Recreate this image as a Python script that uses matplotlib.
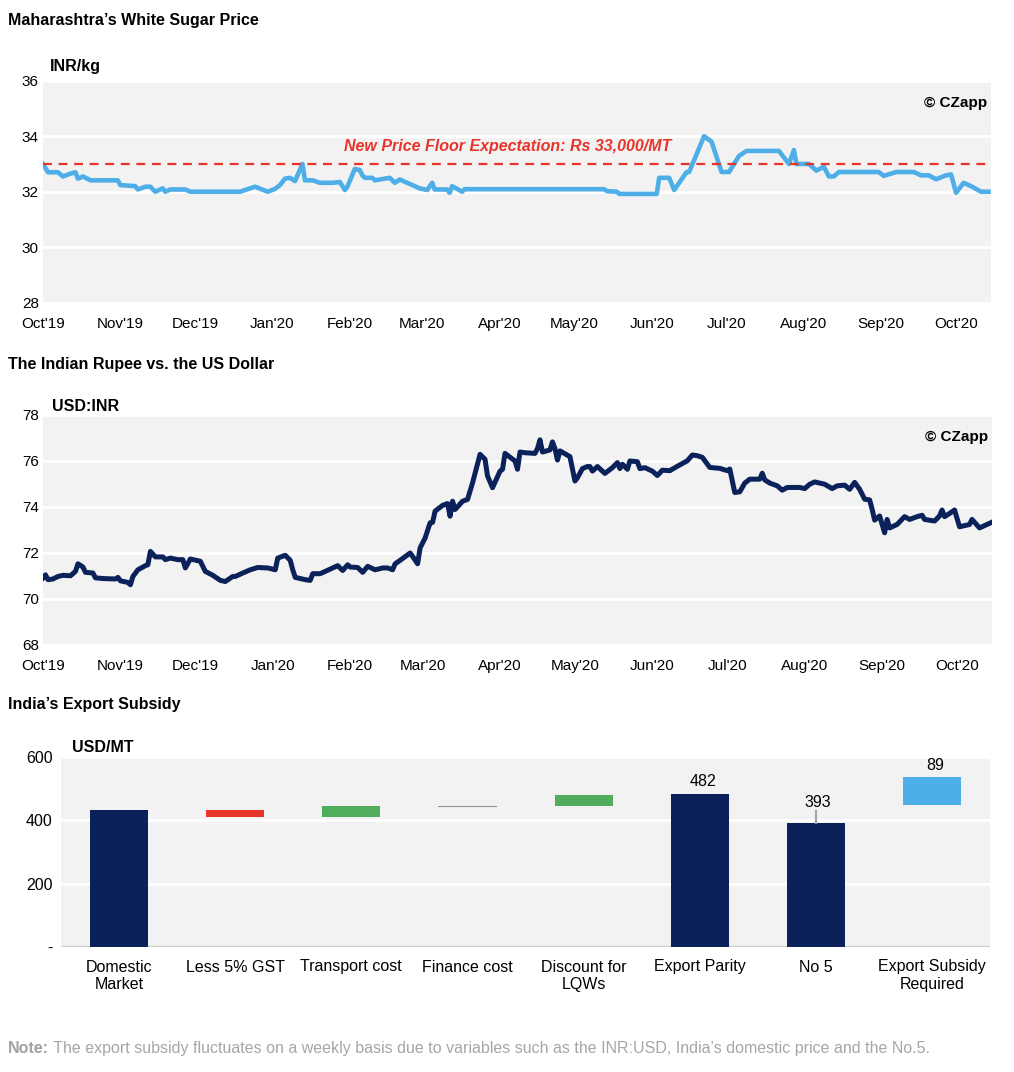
import numpy as np
import pandas as pd
import matplotlib
matplotlib.use("Agg")
import matplotlib.pyplot as plt
import matplotlib.dates as mdates

plt.rcParams['font.family'] = ['Liberation Sans', 'DejaVu Sans']

# Maharashtra white sugar price, INR/kg
sugar_dates = [
    "2019-10-01", "2019-10-03", "2019-10-07", "2019-10-09", "2019-10-12", "2019-10-14",
    "2019-10-15", "2019-10-17", "2019-10-20", "2019-10-31", "2019-11-01", "2019-11-07",
    "2019-11-08", "2019-11-11", "2019-11-13", "2019-11-15", "2019-11-18", "2019-11-19",
    "2019-11-21", "2019-11-27", "2019-11-29", "2019-12-19", "2019-12-25", "2019-12-30",
    "2020-01-02", "2020-01-04", "2020-01-06", "2020-01-08", "2020-01-10", "2020-01-13",
    "2020-01-14", "2020-01-17", "2020-01-20", "2020-01-25", "2020-01-28", "2020-01-30",
    "2020-01-31", "2020-02-03", "2020-02-05", "2020-02-06", "2020-02-07", "2020-02-10",
    "2020-02-11", "2020-02-17", "2020-02-19", "2020-02-21", "2020-02-29", "2020-03-03",
    "2020-03-05", "2020-03-06", "2020-03-11", "2020-03-12", "2020-03-13", "2020-03-17",
    "2020-03-18", "2020-05-13", "2020-05-14", "2020-05-18", "2020-05-19", "2020-06-03",
    "2020-06-04", "2020-06-08", "2020-06-10", "2020-06-15", "2020-06-16", "2020-06-22",
    "2020-06-25", "2020-06-29", "2020-07-02", "2020-07-06", "2020-07-09", "2020-07-22",
    "2020-07-26", "2020-07-28", "2020-07-29", "2020-08-03", "2020-08-06", "2020-08-09",
    "2020-08-11", "2020-08-13", "2020-08-15", "2020-08-31", "2020-09-02", "2020-09-07",
    "2020-09-14", "2020-09-17", "2020-09-20", "2020-09-23", "2020-09-27", "2020-09-29",
    "2020-10-01", "2020-10-04", "2020-10-07", "2020-10-11", "2020-10-14",
]
sugar_price = [
    33.0, 32.7, 32.7, 32.55, 32.65, 32.7,
    32.47, 32.55, 32.41, 32.41, 32.24, 32.2,
    32.08, 32.18, 32.18, 32.0, 32.12, 32.0,
    32.08, 32.08, 32.0, 32.0, 32.18, 32.0,
    32.1, 32.24, 32.47, 32.5, 32.38, 33.0,
    32.41, 32.41, 32.32, 32.32, 32.35, 32.06,
    32.18, 32.82, 32.78, 32.59, 32.5, 32.5,
    32.41, 32.5, 32.32, 32.44, 32.12, 32.06,
    32.32, 32.08, 32.08, 31.96, 32.2, 32.0,
    32.09, 32.09, 32.02, 32.0, 31.92, 31.92,
    32.5, 32.5, 32.06, 32.71, 32.71, 34.0,
    33.8, 32.71, 32.71, 33.29, 33.47, 33.47,
    33.0, 33.5, 33.0, 33.0, 32.76, 32.9,
    32.55, 32.55, 32.71, 32.71, 32.57, 32.71,
    32.71, 32.59, 32.59, 32.45, 32.59, 32.62,
    31.96, 32.32, 32.2, 32.0, 32.0,
]
price_floor = 33.0

# USD:INR
fx_dates = [
    "2019-10-01", "2019-10-02", "2019-10-03", "2019-10-05", "2019-10-07", "2019-10-09",
    "2019-10-12", "2019-10-14", "2019-10-15", "2019-10-17", "2019-10-18", "2019-10-21",
    "2019-10-22", "2019-10-25", "2019-10-30", "2019-10-31", "2019-11-01", "2019-11-04",
    "2019-11-05", "2019-11-06", "2019-11-08", "2019-11-11", "2019-11-12", "2019-11-13",
    "2019-11-15", "2019-11-18", "2019-11-19", "2019-11-21", "2019-11-24", "2019-11-26",
    "2019-11-27", "2019-11-29", "2019-12-03", "2019-12-05", "2019-12-08", "2019-12-11",
    "2019-12-13", "2019-12-16", "2019-12-17", "2019-12-20", "2019-12-23", "2019-12-26",
    "2019-12-30", "2020-01-02", "2020-01-03", "2020-01-06", "2020-01-08", "2020-01-09",
    "2020-01-10", "2020-01-14", "2020-01-16", "2020-01-17", "2020-01-20", "2020-01-24",
    "2020-01-27", "2020-01-29", "2020-01-31", "2020-02-01", "2020-02-04", "2020-02-06",
    "2020-02-08", "2020-02-11", "2020-02-14", "2020-02-16", "2020-02-18", "2020-02-19",
    "2020-02-21", "2020-02-25", "2020-02-26", "2020-02-28", "2020-02-29", "2020-03-02",
    "2020-03-04", "2020-03-05", "2020-03-06", "2020-03-09", "2020-03-11", "2020-03-12",
    "2020-03-13", "2020-03-14", "2020-03-17", "2020-03-19", "2020-03-21", "2020-03-24",
    "2020-03-26", "2020-03-27", "2020-03-29", "2020-04-01", "2020-04-02", "2020-04-03",
    "2020-04-07", "2020-04-08", "2020-04-09", "2020-04-11", "2020-04-15", "2020-04-16",
    "2020-04-17", "2020-04-18", "2020-04-21", "2020-04-22", "2020-04-23", "2020-04-24",
    "2020-04-25", "2020-04-29", "2020-05-01", "2020-05-02", "2020-05-04", "2020-05-06",
    "2020-05-07", "2020-05-08", "2020-05-10", "2020-05-13", "2020-05-16", "2020-05-18",
    "2020-05-19", "2020-05-20", "2020-05-22", "2020-05-23", "2020-05-26", "2020-05-27",
    "2020-05-29", "2020-06-01", "2020-06-03", "2020-06-05", "2020-06-08", "2020-06-11",
    "2020-06-15", "2020-06-17", "2020-06-19", "2020-06-21", "2020-06-24", "2020-06-28",
    "2020-07-01", "2020-07-02", "2020-07-04", "2020-07-06", "2020-07-08", "2020-07-10",
    "2020-07-14", "2020-07-15", "2020-07-16", "2020-07-18", "2020-07-21", "2020-07-23",
    "2020-07-25", "2020-07-30", "2020-08-01", "2020-08-03", "2020-08-05", "2020-08-09",
    "2020-08-12", "2020-08-14", "2020-08-17", "2020-08-19", "2020-08-21", "2020-08-23",
    "2020-08-25", "2020-08-27", "2020-08-28", "2020-08-29", "2020-08-31", "2020-09-02",
    "2020-09-03", "2020-09-04", "2020-09-07", "2020-09-10", "2020-09-12", "2020-09-15",
    "2020-09-17", "2020-09-18", "2020-09-22", "2020-09-24", "2020-09-25", "2020-09-26",
    "2020-09-28", "2020-09-30", "2020-10-02", "2020-10-06", "2020-10-07", "2020-10-10",
    "2020-10-13", "2020-10-15",
]
usd_inr = [
    70.91, 71.05, 70.84, 70.87, 70.98, 71.03,
    71.01, 71.2, 71.53, 71.39, 71.16, 71.13,
    70.92, 70.89, 70.87, 70.94, 70.79, 70.72,
    70.62, 70.98, 71.27, 71.45, 71.49, 72.07,
    71.83, 71.83, 71.71, 71.78, 71.71, 71.71,
    71.35, 71.74, 71.64, 71.2, 71.03, 70.81,
    70.76, 70.98, 70.98, 71.13, 71.27, 71.37,
    71.35, 71.27, 71.78, 71.9, 71.68, 71.27,
    70.94, 70.84, 70.81, 71.1, 71.1, 71.3,
    71.45, 71.24, 71.49, 71.39, 71.37, 71.16,
    71.42, 71.27, 71.35, 71.35, 71.27, 71.53,
    71.68, 72.0, 71.85, 71.53, 72.22, 72.65,
    73.31, 73.33, 73.82, 74.07, 74.15, 73.6,
    74.25, 73.89, 74.25, 74.33, 75.05, 76.29,
    76.07, 75.35, 74.84, 75.56, 75.64, 76.33,
    76.0, 75.64, 76.39, 76.36, 76.33, 76.54,
    76.92, 76.39, 76.48, 76.83, 76.54, 76.04,
    76.44, 76.19, 75.13, 75.27, 75.67, 75.76,
    75.76, 75.56, 75.76, 75.46, 75.71, 75.93,
    75.67, 75.86, 75.64, 76.0, 75.97, 75.67,
    75.71, 75.56, 75.37, 75.6, 75.58, 75.77,
    76.01, 76.26, 76.23, 76.16, 75.72, 75.68,
    75.58, 75.65, 74.63, 74.66, 75.04, 75.21,
    75.21, 75.47, 75.18, 75.04, 74.92, 74.73,
    74.85, 74.85, 74.8, 74.99, 75.09, 74.99,
    74.8, 74.92, 74.95, 74.77, 75.07, 74.77,
    74.34, 74.31, 73.9, 73.43, 73.61, 72.88,
    73.46, 73.09, 73.24, 73.58, 73.46, 73.58,
    73.64, 73.46, 73.39, 73.61, 73.87, 73.58,
    73.72, 73.87, 73.14, 73.24, 73.46, 73.09,
    73.24, 73.34,
]

# export subsidy waterfall, USD/MT
steps = ['Domestic\nMarket', 'Less 5% GST', 'Transport cost', 'Finance cost',
         'Discount for\nLQWs', 'Export Parity', 'No 5', 'Export Subsidy\nRequired']
domestic = 432
changes = [-21, 33, 2, 35]          # GST, transport, finance, LQW discount
export_parity = 482
no5 = 393
subsidy = 89
subsidy_base = 447

NAVY = '#0A2159'
LIGHT = '#4EAEE8'
RED = '#E8352B'
GREEN = '#4FAD5B'
BG = '#F2F2F2'

fig = plt.figure(figsize=(10.14, 10.72), dpi=100)
W, H = 1014, 1072


def px_axes(left, top, right, bottom):
    return fig.add_axes([left / W, 1 - bottom / H, (right - left) / W, (bottom - top) / H])


def style_ts(ax, ylo, yhi):
    ax.set_facecolor(BG)
    for s in ax.spines.values():
        s.set_visible(False)
    ax.set_ylim(ylo, yhi)
    ax.set_yticks(np.arange(ylo, yhi + 1, 2))
    ax.grid(axis='y', color='white', linewidth=2)
    ax.set_axisbelow(True)
    ax.set_xlim(pd.Timestamp('2019-10-01'), pd.Timestamp('2020-10-15'))
    months = pd.date_range('2019-10-01', '2020-10-01', freq='MS')
    ax.set_xticks(months)
    ax.xaxis.set_major_formatter(mdates.DateFormatter("%b'%y"))
    ax.tick_params(axis='both', length=0, labelsize=11)
    ax.tick_params(axis='y', pad=3)
    ax.tick_params(axis='x', pad=10)


# --- top panel: sugar price
ax1 = px_axes(43, 80.7, 991, 302.7)
style_ts(ax1, 28, 36)
ax1.plot(pd.to_datetime(sugar_dates), sugar_price, color=LIGHT, lw=3.3, solid_joinstyle='round')
ax1.axhline(price_floor, color=RED, lw=1.6, ls=(0, (4, 3)))
ax1.text(0.49, 0.705, 'New Price Floor Expectation: Rs 33,000/MT', transform=ax1.transAxes,
         color=RED, fontsize=11.5, fontweight='bold', fontstyle='italic', ha='center', va='center')
ax1.text(0.996, 0.9, '© CZapp', transform=ax1.transAxes, ha='right', va='center',
         fontsize=11, fontweight='bold')
fig.text(8 / W, 1 - 21 / H, 'Maharashtra’s White Sugar Price', fontsize=11.5, fontweight='bold',
         ha='left', va='center')
fig.text(50 / W, 1 - 67 / H, 'INR/kg', fontsize=11.5, fontweight='bold', ha='left', va='center')

# --- middle panel: USD:INR
ax2 = px_axes(43, 415, 992, 645)
style_ts(ax2, 68, 78)
ax2.plot(pd.to_datetime(fx_dates), usd_inr, color=NAVY, lw=3.6, solid_joinstyle='round')
ax2.text(0.996, 0.905, '© CZapp', transform=ax2.transAxes, ha='right', va='center',
         fontsize=11, fontweight='bold')
fig.text(8 / W, 1 - 364 / H, 'The Indian Rupee vs. the US Dollar', fontsize=11.5, fontweight='bold',
         ha='left', va='center')
fig.text(52 / W, 1 - 406 / H, 'USD:INR', fontsize=11.5, fontweight='bold', ha='left', va='center')

# --- bottom panel: waterfall
ax3 = px_axes(61, 757, 990, 947)
ax3.set_facecolor(BG)
for s in ax3.spines.values():
    s.set_visible(False)
x = np.arange(len(steps))
running = domestic
bottoms = [0]
heights = [domestic]
colors = [NAVY]
for c in changes:
    bottoms.append(min(running, running + c))
    heights.append(abs(c))
    colors.append(RED if c < 0 else GREEN)
    running += c
bottoms += [0, 0, subsidy_base]
heights += [export_parity, no5, subsidy]
colors += [NAVY, NAVY, LIGHT]
ax3.bar(x, heights, bottom=bottoms, width=0.5, color=colors, zorder=3)
# finance cost is only a sliver
ax3.plot([x[3] - 0.25, x[3] + 0.25], [bottoms[3] + heights[3]] * 2, color='#8a9a8a', lw=0.8, zorder=4)
ax3.set_xlim(-0.5, len(steps) - 0.5)
ax3.set_ylim(0, 600)
ax3.set_yticks([0, 200, 400, 600])
ax3.set_yticklabels(['-', '200', '400', '600'])
ax3.grid(axis='y', color='white', linewidth=2)
ax3.set_axisbelow(True)
ax3.axhline(0, color='#D0D0D0', lw=2.5, zorder=2)
ax3.set_xticks(x)
ax3.set_xticklabels(steps, linespacing=1.2)
ax3.tick_params(axis='both', length=0, labelsize=11.5)
ax3.tick_params(axis='y', pad=6)
ax3.tick_params(axis='x', pad=9)
ax3.text(x[5] + 0.03, export_parity + 18, str(export_parity), ha='center', va='bottom', fontsize=11.5)
ax3.plot([x[6], x[6]], [no5, no5 + 37], color='#A0A0A0', lw=1.5, zorder=4)
ax3.text(x[6] + 0.02, no5 + 40, str(no5), ha='center', va='bottom', fontsize=11.5)
ax3.text(x[7] + 0.03, subsidy_base + subsidy + 12, str(subsidy), ha='center', va='bottom', fontsize=11.5)
fig.text(8 / W, 1 - 705 / H, 'India’s Export Subsidy', fontsize=11.5, fontweight='bold',
         ha='left', va='center')
fig.text(72 / W, 1 - 748 / H, 'USD/MT', fontsize=11.5, fontweight='bold', ha='left', va='center')

# footnote, both parts on one baseline
note_y = 1 - 1053 / H
note = fig.text(8 / W, note_y, 'Note:', fontsize=11.5, fontweight='bold', color='#A0A0A0',
                ha='left', va='baseline')
plt.annotate(' The export subsidy fluctuates on a weekly basis due to variables such as the INR:USD, '
             'India’s domestic price and the No.5.', xy=(1, note_y), xycoords=(note, 'figure fraction'),
             va='baseline', ha='left', fontsize=11.5, color='#A6A6A6')

fig.savefig('out.png', dpi=100, facecolor='white')
